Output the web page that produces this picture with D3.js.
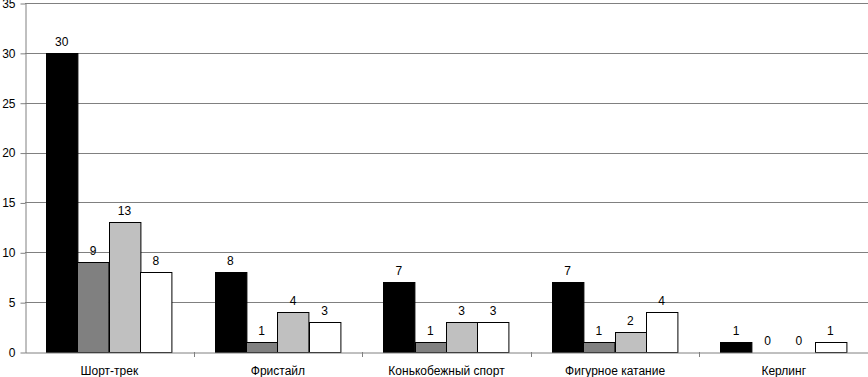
<!DOCTYPE html>
<html>
<head>
<meta charset="utf-8">
<script src="https://cdn.jsdelivr.net/npm/d3@7"></script>
<style>
  body { margin: 0; background: #fff; }
  text { font-family: "Liberation Sans", Arial, sans-serif; font-size: 12px; fill: #000; }
</style>
</head>
<body>
<div id="chart"></div>
<script>
// data
const categories = ["Шорт-трек", "Фристайл", "Конькобежный спорт", "Фигурное катание", "Керлинг"];
const seriesA = [30, 8, 7, 7, 1];
const seriesB = [9, 1, 1, 1, 0];
const seriesC = [13, 4, 3, 2, 0];
const seriesD = [8, 3, 3, 4, 1];
const yTicks = [0, 5, 10, 15, 20, 25, 30, 35];

const width = 868,
    height = 377,
    margin = ({ top: 3, right: 0, bottom: 25, left: 25 });

const colors = ["#000000", "#808080", "#c0c0c0", "#ffffff"];
const series = [seriesA, seriesB, seriesC, seriesD];

const svg = d3.select("#chart")
    .append("svg")
    .attr("width", width)
    .attr("height", height);

let x = d3.scaleBand()
    .domain(categories)
    .range([margin.left, width - margin.right]);

// bars inside a group
let xs = d3.scaleBand()
    .domain(d3.range(series.length))
    .range([21, x.bandwidth() - 22]);

let y = d3.scaleLinear()
    .domain([0, 35])
    .range([height - margin.bottom, margin.top]);

// gridlines
svg.append("g")
    .selectAll("line")
    .data(yTicks.filter(d => d > 0))
    .join("line")
    .attr("x1", margin.left)
    .attr("x2", width - margin.right)
    .attr("y1", d => Math.round(y(d)) + 0.5)
    .attr("y2", d => Math.round(y(d)) + 0.5)
    .attr("stroke", "#808080");

// y axis
let yAxis = svg.append("g")
    .attr("transform", `translate(${margin.left + 0.5},0.5)`)
    .call(d3.axisLeft(y).tickValues(yTicks).tickSize(5).tickSizeOuter(0).tickPadding(5));
yAxis.select(".domain").attr("stroke", "#808080");
yAxis.selectAll(".tick line").attr("stroke", "#808080");
yAxis.selectAll(".tick text").style("font-size", "12px").attr("fill", "#000").attr("font-family", null);

// bars
series.forEach((vals, i) => {
    svg.append("g")
      .selectAll("rect")
      .data(vals)
      .join("rect")
      .attr("x", (d, j) => Math.round(x(categories[j]) + xs(i)) + 0.5)
      .attr("y", d => Math.round(y(d)) + 0.5)
      .attr("width", xs.bandwidth())
      .attr("height", d => Math.round(y(0)) - Math.round(y(d)))
      .attr("fill", colors[i])
      .attr("stroke", "#000");

    svg.append("g")
      .selectAll("text")
      .data(vals)
      .join("text")
      .attr("x", (d, j) => x(categories[j]) + xs(i) + xs.bandwidth() / 2)
      .attr("y", d => y(d) - 7)
      .attr("text-anchor", "middle")
      .text(d => d);
});

// x axis
let xAxis = svg.append("g")
    .attr("transform", `translate(0,${Math.round(y(0)) + 0.5})`)
    .call(d3.axisBottom(x).tickSize(0).tickPadding(14).tickSizeOuter(0));
xAxis.select(".domain").attr("stroke", "#808080");
xAxis.selectAll(".tick text").style("font-size", "12px").attr("fill", "#000").attr("font-family", null);

// separator ticks between categories
svg.append("g")
    .selectAll("line")
    .data(categories)
    .join("line")
    .attr("x1", d => Math.round(x(d) + x.bandwidth()) + 0.5)
    .attr("x2", d => Math.round(x(d) + x.bandwidth()) + 0.5)
    .attr("y1", y(0))
    .attr("y2", y(0) + 5)
    .attr("stroke", "#808080");
</script>
</body>
</html>
